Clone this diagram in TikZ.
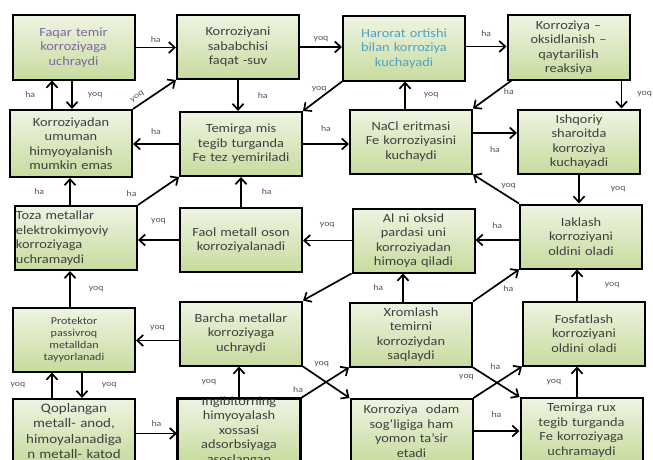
\documentclass[tikz,border=0pt]{standalone}
\usepackage{fontspec}
\setmainfont{Carlito}
\newfontfamily\wideface[FakeStretch=1.15]{Carlito}
\usetikzlibrary{shadows}
\usetikzlibrary{arrows.meta}
\definecolor{boxtop}{HTML}{EEF4E2}
\definecolor{boxbot}{HTML}{C8DB9E}
\definecolor{boxtext}{HTML}{404040}
\definecolor{lbltext}{HTML}{555555}
\definecolor{purpletext}{HTML}{8064A2}
\definecolor{bluetext}{HTML}{4BA3C8}

\begin{document}
\begin{tikzpicture}[x=1pt, y=-1pt,
        box/.style={draw, line width=2pt, top color=boxtop, bottom color=boxbot,
            minimum width=122pt, minimum height=64pt, text width=120pt, align=center,
            inner sep=1pt, text=boxtext, font=\wideface\fontsize{12.5}{14.5}\selectfont,
            drop shadow={opacity=0.2, shadow xshift=1pt, shadow yshift=-1pt}},
        arr/.style={line width=1.7pt, -{Straight Barb[length=6pt, width=11pt]}},
        lbl/.style={font=\wideface\fontsize{8.5}{9}\selectfont, text=lbltext, inner sep=1pt}]
        \useasboundingbox (0,0) rectangle (653,460);
        \clip (0,0) rectangle (653,460);

        \node[box, text=purpletext] (b1) at (73.5,47.5) {Faqar temir\\korroziyaga\\uchraydi};
        \node[box] (b2) at (238,47) {Korroziyani\\sababchisi\\faqat -suv};
        \node[box, text=bluetext] (b3) at (404,48.5) {Harorat ortishi\\bilan korroziya\\kuchayadi};
        \node[box] (b4) at (568.5,47.5) {Korroziya –\\oksidlanish –\\qaytarilish\\reaksiya};

        \node[box, minimum height=67pt] (b5) at (71,143.5) {Korroziyadan\\umuman\\himyoyalanish\\mumkin emas};
        \node[box] (b6) at (241,144) {Temirga mis\\tegib turganda\\Fe tez yemiriladi};
        \node[box] (b7) at (411,141.5) {NaCl eritmasi\\Fe korroziyasini\\kuchaydi};
        \node[box] (b8) at (579,141.5) {Ishqoriy\\sharoitda\\korroziya\\kuchayadi};

        \node[box, align=left] (b9) at (76,238) {Toza metallar\\elektrokimyoviy\\korroziyaga\\uchramaydi};
        \node[box] (b10) at (241,240) {Faol metall oson\\korroziyalanadi};
        \node[box] (b11) at (413.5,240.5) {Al ni oksid\\pardasi uni\\korroziyadan\\himoya qiladi};
        \node[box] (b12) at (581,236.5) {Iaklash\\korroziyani\\oldini oladi};

        \node[box, font=\wideface\fontsize{10.5}{12}\selectfont] (b13) at (74,339.5) {Protektor\\passivroq\\metalldan\\tayyorlanadi};
        \node[box] (b14) at (241,333.5) {Barcha metallar\\korroziyaga\\uchraydi};
        \node[box] (b15) at (411,334.5) {Xromlash\\temirni\\korroziydan\\saqlaydi};
        \node[box] (b16) at (584,333.5) {Fosfatlash\\korroziyani\\oldini oladi};

        \node[box, font=\wideface\fontsize{13}{15.5}\selectfont] (b17) at (74,431) {Qoplangan\\metall- anod,\\himoyalanadiga\\n metall- katod};
        \node[box] (b18) at (239,431) {};
        \node[text=boxtext, font=\wideface\fontsize{12.5}{14.5}\selectfont, align=center] (b18t) at (b18) {Ingibitorning\\himyoyalash\\xossasi\\adsorbsiyaga\\asoslangan};
        \draw[line width=2pt] (b18.north west) rectangle (b18.south east);
        \node[box] (b19) at (411.5,431) {Korroziya~ odam\\sog‘ligiga ham\\yomon ta’sir\\etadi};
        \node[box] (b20) at (581.5,430) {Temirga rux\\tegib turganda\\Fe korroziyaga\\uchramaydi};

        \draw[arr] (b1.east) -- node[lbl, above=3pt] {ha} (b1.east -| b2.west);
        \draw[arr] (b2.east) -- node[lbl, above=3pt] {yoq} (b2.east -| b3.west);
        \draw[arr] ([yshift=2pt]b3.east) -- node[lbl, above=8pt] {ha} ([yshift=2pt]b3.east -| b4.west);
        \draw[arr] ([xshift=53pt]b4.south) -- node[lbl, right=14pt] {yoq} ([xshift=53pt]b4.south |- b8.north);
        \draw[arr] ([xshift=5pt]b4.south west) -- node[lbl, pos=0.4, right=6pt] {ha} (b7.north east);
        \draw[arr] ([xshift=-6pt]b7.north) -- node[lbl, right=17pt] {yoq} ([xshift=-6pt]b7.north |- b3.south);
        \draw[arr] (b2.south) -- node[lbl, right=18pt] {ha} (b2.south |- b6.north);
        \draw[arr] (b3.south west) -- node[lbl, pos=0.25, left=4pt] {yoq} (b6.north east);
        \draw[arr] ([xshift=-19pt]b5.north) -- node[lbl, left=15pt] {ha} ([xshift=-19pt]b5.north |- b1.south);
        \draw[arr] ([xshift=-1.5pt]b1.south) -- node[lbl, right=14pt] {yoq} ([xshift=-1.5pt]b1.south |- b5.north);
        \draw[arr] (b5.north east) -- node[lbl, pos=0.2, sloped, above=3pt] {yoq} (b2.south west);
        \draw[arr] (b6.west) -- node[lbl, above=8pt] {ha} (b6.west -| b5.east);
        \draw[arr] (b6.east) -- node[lbl, above=11pt] {ha} (b6.east -| b7.west);
        \draw[arr] ([yshift=8.5pt]b7.east) -- node[lbl, below=12pt] {ha} ([yshift=8.5pt]b7.east -| b8.west);
        \draw[arr] (b8.south) -- node[lbl, right=30pt] {yoq} (b8.south |- b12.north);
        \draw[arr] (b12.north west) -- node[lbl, pos=0.6, right=8pt] {yoq} (b7.south east);
        \draw[arr] ([yshift=-3.5pt]b12.west) -- node[lbl, above=10pt] {ha} ([yshift=-3.5pt]b12.west -| b11.east);
        \draw[arr] ([xshift=-6pt]b9.north) -- node[lbl, left=24pt] {ha} ([xshift=-6pt]b9.north |- b5.south);
        \draw[arr] (b9.north east) -- node[lbl, pos=0.4, left=16pt] {ha} (b6.south west);
        \draw[arr] (b10.north) -- node[lbl, right=19pt] {ha} (b10.north |- b6.south);
        \draw[arr] (b10.west) -- node[lbl, above=14pt] {yoq} (b10.west -| b9.east);
        \draw[arr] (b11.west) -- node[lbl, above=11pt] {yoq} (b11.west -| b10.east);
        \draw[arr] (b11.south west) -- (b14.north east);
        \draw[arr] ([xshift=-8pt]b15.north) -- node[lbl, left=18pt] {ha} ([xshift=-8pt]b15.north |- b11.south);
        \draw[arr] ([xshift=-4pt]b13.north) -- node[lbl, right=17pt] {yoq} ([xshift=-4pt]b13.north |- b9.south);
        \draw[arr] ([yshift=-7pt]b14.west) -- node[lbl, above=8pt] {yoq} ([yshift=-7pt]b14.west -| b13.east);
        \draw[arr] ([xshift=-22pt]b17.north) -- node[lbl, left=25pt] {yoq} ([xshift=-22pt]b17.north |- b13.south);
        \draw[arr] ([xshift=8pt]b13.south) -- node[lbl, right=18pt] {yoq} ([xshift=8pt]b13.south |- b17.north);
        \draw[arr] (b18.north) -- node[lbl, left=21pt] {yoq} (b18.north |- b14.south);
        \draw[arr] ([yshift=-2.5pt]b17.east) -- node[lbl, above=5pt] {ha} ([yshift=-2.5pt]b17.east -| b18.west);
        \draw[arr] (b14.south east) -- node[lbl, pos=0.4, above=10pt] {yoq} (b19.north west);
        \draw[arr] (b18.north east) -- node[lbl, pos=0.1, above left=1pt] {ha} (b15.south west);
        \draw[arr] (b15.north east) -- node[lbl, pos=0.6, below right=1pt] {ha} (b12.south west);
        \draw[arr] ([xshift=-7pt]b16.north) -- node[lbl, right=26pt] {yoq} ([xshift=-7pt]b16.north |- b12.south);
        \draw[arr] (b15.south east) -- node[lbl, pos=0.1, below left=2pt] {yoq} (b20.north west);
        \draw[arr] (b19.north east) -- node[lbl, pos=0.45, above=12pt] {ha} (b16.south west);
        \draw[arr] ([xshift=-4.5pt]b20.north) -- node[lbl, left=14pt] {yoq} ([xshift=-4.5pt]b20.north |- b16.south);
        \draw[arr] (b19.east) -- node[lbl, above=12pt] {ha} (b19.east -| b20.west);
    \end{tikzpicture}
\end{document}
